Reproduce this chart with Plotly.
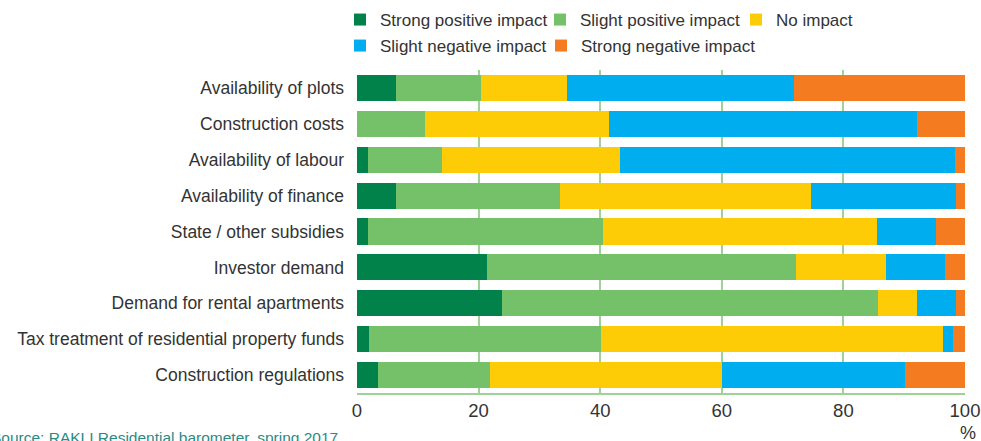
import plotly.graph_objects as go

categories = [
    "Availability of plots",
    "Construction costs",
    "Availability of labour",
    "Availability of finance",
    "State / other subsidies",
    "Investor demand",
    "Demand for rental apartments",
    "Tax treatment of residential property funds",
    "Construction regulations",
]
strong_positive = [6.4, 0.0, 1.8, 6.4, 1.8, 21.4, 23.8, 2.0, 3.5]
slight_positive = [14.0, 11.2, 12.2, 27.0, 38.7, 50.8, 61.9, 38.1, 18.4]
no_impact = [14.1, 30.2, 29.3, 41.3, 45.0, 14.8, 6.4, 56.3, 38.1]
slight_negative = [37.3, 50.7, 55.1, 23.8, 9.7, 9.7, 6.4, 1.7, 30.1]
strong_negative = [28.2, 7.9, 1.6, 1.5, 4.8, 3.3, 1.5, 1.9, 9.9]
x_ticks = [0, 20, 40, 60, 80, 100]

series_names = ["Strong positive impact", "Slight positive impact", "No impact",
                "Slight negative impact", "Strong negative impact"]
series_values = [strong_positive, slight_positive, no_impact, slight_negative, strong_negative]
series_colors = ["#00824A", "#75C16A", "#FDCC06", "#00AEEF", "#F47B20"]
series_legend = ["legend", "legend", "legend", "legend2", "legend2"]
legend_entry_widths = [155, 151, 120, 156, 180]

W, H = 981, 441
ML, MR, MT, MB = 357, 16, 70, 48
PW, PH = W - ML - MR, H - MT - MB

def px_x(px):
    return (px - ML) / PW

def px_y(py):
    return (H - MB - py) / PH

fig = go.Figure()
for name, vals, color, leg, lw in zip(series_names, series_values, series_colors,
                                      series_legend, legend_entry_widths):
    fig.add_trace(go.Bar(
        y=categories, x=vals, name=name, orientation="h",
        marker=dict(color=color, line=dict(width=0)),
        legend=leg, legendwidth=lw, hoverinfo="x+name",
    ))

font_family = "Liberation Sans, Arial, sans-serif"
text_col = "#333333"
leg_common = dict(orientation="h", xanchor="left", yanchor="middle",
                  xref="container", yref="container",
                  font=dict(size=17, color=text_col), itemsizing="constant",
                  traceorder="normal", bgcolor="rgba(0,0,0,0)", itemwidth=30,
                  borderwidth=0)
fig.update_layout(
    barmode="stack",
    bargap=0.27,
    width=W, height=H,
    margin=dict(l=ML, r=MR, t=MT, b=MB, autoexpand=False),
    paper_bgcolor="white", plot_bgcolor="white",
    font=dict(family=font_family, size=17.5, color=text_col),
    legend=dict(x=340 / W, y=1 - 20 / H, **leg_common),
    legend2=dict(x=340 / W, y=1 - 46 / H, **leg_common),
    xaxis=dict(range=[0, 100], tickvals=x_ticks, ticktext=[str(t) for t in x_ticks],
               showgrid=True, gridcolor="#9fd296", gridwidth=2,
               zeroline=False, showline=True, linecolor="#9fd296", linewidth=2,
               mirror=False, ticks="", tickfont=dict(size=18.5, color=text_col),
               automargin=False, fixedrange=True),
    yaxis=dict(autorange="reversed", ticks="", ticklabelstandoff=12,
               tickfont=dict(size=17.5, color=text_col), showgrid=False,
               showline=False, automargin=False, fixedrange=True),
)

fig.add_annotation(text="%", xref="paper", yref="paper", x=px_x(968), y=px_y(433),
                   xanchor="center", yanchor="middle", showarrow=False,
                   font=dict(size=18, color=text_col))
fig.add_annotation(text="Source: RAKLI Residential barometer, spring 2017",
                   xref="paper", yref="paper", x=px_x(0), y=px_y(437),
                   xanchor="left", yanchor="middle", xshift=-11, showarrow=False,
                   font=dict(size=15.5, color="#2A8A86"))

fig.write_html("out.html", config={"displayModeBar": False},
               post_script="document.body.style.margin='0';document.body.style.overflow='hidden';")
